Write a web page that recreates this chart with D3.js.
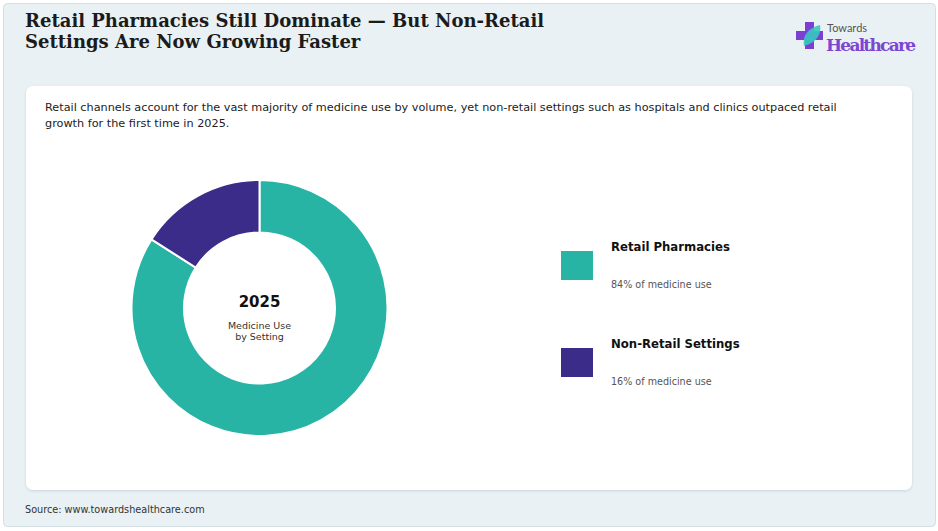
<!DOCTYPE html>
<html>
<head>
<meta charset="utf-8">
<script src="https://cdn.jsdelivr.net/npm/d3@7"></script>
<style>
  html, body { margin: 0; padding: 0; background: #ffffff; }
  svg { display: block; }
</style>
</head>
<body>
<div id="chart"></div>
<script>
// data
var categories = ["Retail Pharmacies", "Non-Retail Settings"];
var shares = [84, 16];
var legendNotes = ["84% of medicine use", "16% of medicine use"];
var colors = ["#27b4a5", "#3a2c88"];

var titleLines = ["Retail Pharmacies Still Dominate \u2014 But Non-Retail", "Settings Are Now Growing Faster"];
var subtitleLines = ["Retail channels account for the vast majority of medicine use by volume, yet non-retail settings such as hospitals and clinics outpaced retail",
                     "growth for the first time in 2025."];

var W = 938, H = 531;

var svg = d3.select("#chart")
  .append("svg")
    .attr("width", W)
    .attr("height", H);

// background frame
svg.append("rect")
  .attr("x", 0).attr("y", 0).attr("width", W).attr("height", H)
  .attr("fill", "#ffffff");
svg.append("rect")
  .attr("x", 3.5).attr("y", 3.5).attr("width", 932).attr("height", 523)
  .attr("rx", 4)
  .attr("fill", "#e9f1f4")
  .attr("stroke", "#d3dfe3");

// white card with soft shadow
var defs = svg.append("defs");
var f = defs.append("filter").attr("id", "shadow").attr("x", "-5%").attr("y", "-5%").attr("width", "110%").attr("height", "115%");
f.append("feDropShadow").attr("dx", 0).attr("dy", 1).attr("stdDeviation", 1.5).attr("flood-color", "#9fb3ba").attr("flood-opacity", 0.45);

svg.append("rect")
  .attr("x", 26).attr("y", 86).attr("width", 886).attr("height", 404)
  .attr("rx", 7)
  .attr("fill", "#ffffff")
  .attr("filter", "url(#shadow)");

// title
svg.append("g").selectAll("text")
  .data(titleLines)
  .join("text")
    .attr("x", 25)
    .attr("y", function(d, i) { return 27 + i * 21; })
    .attr("font-family", "DejaVu Serif")
    .attr("font-weight", "bold")
    .attr("font-size", 18)
    .attr("fill", "#1b1b1b")
    .text(function(d) { return d; });

// subtitle
svg.append("g").selectAll("text")
  .data(subtitleLines)
  .join("text")
    .attr("x", 45)
    .attr("y", function(d, i) { return 111 + i * 16; })
    .attr("font-family", "DejaVu Sans")
    .attr("font-size", 11.25)
    .attr("fill", "#222")
    .text(function(d) { return d; });

// logo
var logo = svg.append("g").attr("transform", "translate(796,22)");
logo.append("path")
  .attr("d", "M9,0 h9 v9 h9 v9 h-9 v9 h-9 v-9 h-9 v-9 h9 z")
  .attr("fill", "#7b3fd4");
logo.append("path")
  .attr("d", "M8,24 C6,14 12,6 24,3 C26,12 20,21 8,24 Z")
  .attr("fill", "#39c6c0")
  .attr("opacity", 0.9);
logo.append("text")
  .attr("x", 31).attr("y", 10)
  .attr("font-family", "Lato, 'DejaVu Sans'")
  .attr("font-size", 11)
  .attr("fill", "#555")
  .text("Towards");
logo.append("text")
  .attr("x", 30).attr("y", 29)
  .attr("font-family", "DejaVu Serif")
  .attr("font-weight", "bold")
  .attr("font-size", 17)
  .attr("textLength", 90)
  .attr("fill", "#7d45d2")
  .text("Healthcare");

// donut
var cx = 259.5, cy = 308, outerR = 128, innerR = 75.5;

var pie = d3.pie()
  .sort(null)
  .value(function(d) { return d; });

var arc = d3.arc()
  .innerRadius(innerR)
  .outerRadius(outerR);

var donut = svg.append("g")
  .attr("transform", "translate(" + cx + "," + cy + ")");

donut.selectAll("path")
  .data(pie(shares))
  .join("path")
    .attr("d", arc)
    .attr("fill", function(d, i) { return colors[i]; })
    .attr("stroke", "#ffffff")
    .attr("stroke-width", 2);

donut.append("text")
  .attr("text-anchor", "middle")
  .attr("y", -1)
  .attr("font-family", "DejaVu Sans")
  .attr("font-weight", "bold")
  .attr("font-size", 15)
  .attr("fill", "#111")
  .text("2025");
donut.append("text")
  .attr("text-anchor", "middle")
  .attr("y", 21)
  .attr("font-family", "DejaVu Sans")
  .attr("font-size", 9.5)
  .attr("fill", "#333")
  .text("Medicine Use");
donut.append("text")
  .attr("text-anchor", "middle")
  .attr("y", 32)
  .attr("font-family", "DejaVu Sans")
  .attr("font-size", 9.5)
  .attr("fill", "#333")
  .text("by Setting");

// legend
var ly = d3.scalePoint()
  .domain(categories)
  .range([0, 97]);

var legend = svg.append("g")
  .attr("transform", "translate(561,251)");

var item = legend.selectAll("g")
  .data(categories)
  .join("g")
    .attr("transform", function(d) { return "translate(0," + ly(d) + ")"; });

item.append("rect")
  .attr("width", 32)
  .attr("height", 29)
  .attr("fill", function(d, i) { return colors[i]; });

item.append("text")
  .attr("x", 50)
  .attr("y", 0)
  .attr("font-family", "DejaVu Sans")
  .attr("font-weight", "bold")
  .attr("font-size", 11.7)
  .attr("fill", "#111")
  .text(function(d) { return d; });

item.append("text")
  .attr("x", 50)
  .attr("y", 37)
  .attr("font-family", "DejaVu Sans")
  .attr("font-size", 9.6)
  .attr("fill", "#555")
  .text(function(d, i) { return legendNotes[i]; });

// source
svg.append("text")
  .attr("x", 25)
  .attr("y", 513)
  .attr("font-family", "DejaVu Sans")
  .attr("font-size", 9.7)
  .attr("fill", "#333")
  .text("Source: www.towardshealthcare.com");
</script>
</body>
</html>
